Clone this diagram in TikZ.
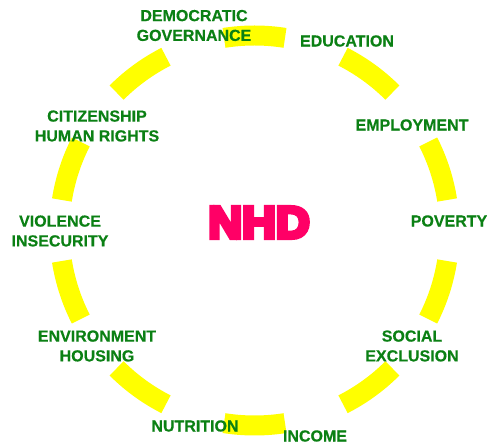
\documentclass[tikz,border=0pt]{standalone}
\usepackage{fontspec}
\usetikzlibrary{calc}
\setmainfont{Liberation Sans}[BoldFont={Liberation Sans Bold},BoldFeatures={FakeBold=0.5}]
\newfontfamily\heavyfont{Liberation Sans Bold}[FakeBold=10,FakeStretch=1.05]
\definecolor{bandyellow}{HTML}{FFFF00}
\definecolor{labelgreen}{HTML}{0B8014}
\definecolor{titlepink}{HTML}{FF0066}
\tikzset{
  band/.style={draw=bandyellow,line width=20pt,line cap=butt},
  lbl/.style={text=labelgreen,font=\fontsize{16}{19.8}\selectfont\bfseries,align=center,inner sep=0pt,outer sep=0pt},
  ttl/.style={text=titlepink,font=\fontsize{44.5}{45}\selectfont\heavyfont,inner sep=0pt,outer sep=0pt}
}
\begin{document}
\begin{tikzpicture}[x=1pt,y=1pt]
\useasboundingbox (0,0) rectangle (487,444);
\coordinate (c) at (254.5,213.5);
\foreach \a in {18,54,90,126,162,198,234,270,306,342}{
  \draw[band] ($(c)+(\a-9:195)$) arc[start angle=\a-9,end angle=\a+9,radius=195];
}
\node[lbl] (gov) at (194,418.5) {DEMOCRATIC\\GOVERNANCE};
\node[lbl] (edu) at (347,403) {EDUCATION};
\node[lbl] (emp) at (412,319) {EMPLOYMENT};
\node[lbl] (pov) at (449,223) {POVERTY};
\node[lbl] (soc) at (412,98) {SOCIAL\\EXCLUSION};
\node[lbl] (inc) at (315,8) {INCOME};
\node[lbl] (nut) at (195,18) {NUTRITION};
\node[lbl] (env) at (97,98) {ENVIRONMENT\\HOUSING};
\node[lbl] (vio) at (60,213) {VIOLENCE\\INSECURITY};
\node[lbl] (cit) at (97,318) {CITIZENSHIP\\HUMAN RIGHTS};
\node[ttl] (nhd) at (259,221.5) {NHD};
\end{tikzpicture}
\end{document}
